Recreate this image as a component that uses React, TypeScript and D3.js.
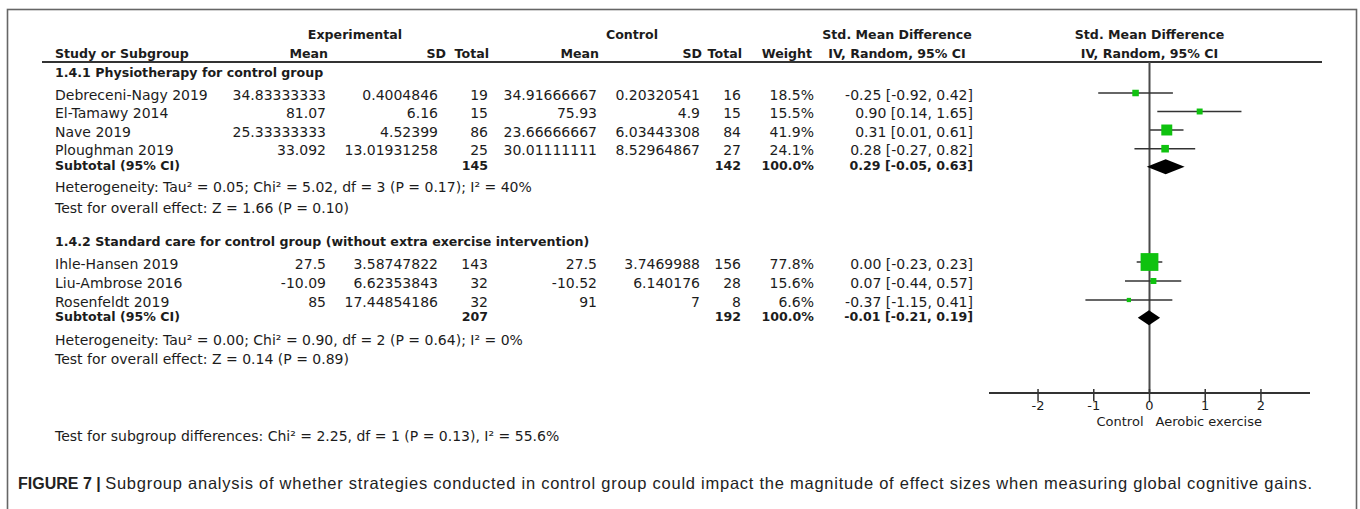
import React from "react";
import * as d3 from "d3";

// ---------- data ----------
const studies = ["Debreceni-Nagy 2019", "El-Tamawy 2014", "Nave 2019", "Ploughman 2019", "Ihle-Hansen 2019", "Liu-Ambrose 2016", "Rosenfeldt 2019"];
const studyGroup = [0, 0, 0, 0, 1, 1, 1];
const expMean = ["34.83333333", "81.07", "25.33333333", "33.092", "27.5", "-10.09", "85"];
const expSD = ["0.4004846", "6.16", "4.52399", "13.01931258", "3.58747822", "6.62353843", "17.44854186"];
const expN = [19, 15, 86, 25, 143, 32, 32];
const ctlMean = ["34.91666667", "75.93", "23.66666667", "30.01111111", "27.5", "-10.52", "91"];
const ctlSD = ["0.20320541", "4.9", "6.03443308", "8.52964867", "3.7469988", "6.140176", "7"];
const ctlN = [16, 15, 84, 27, 156, 28, 8];
const weights = [18.5, 15.5, 41.9, 24.1, 77.8, 15.6, 6.6];
const smd = [-0.25, 0.9, 0.31, 0.28, 0.0, 0.07, -0.37];
const ciLow = [-0.92, 0.14, 0.01, -0.27, -0.23, -0.44, -1.15];
const ciHigh = [0.42, 1.65, 0.61, 0.82, 0.23, 0.57, 0.41];

const groupTitles = ["1.4.1 Physiotherapy for control group", "1.4.2 Standard care for control group (without extra exercise intervention)"];
const groupExpN = [145, 207];
const groupCtlN = [142, 192];
const groupSmd = [0.29, -0.01];
const groupLow = [-0.05, -0.21];
const groupHigh = [0.63, 0.19];
const groupHetero = [
  "Heterogeneity: Tau² = 0.05; Chi² = 5.02, df = 3 (P = 0.17); I² = 40%",
  "Heterogeneity: Tau² = 0.00; Chi² = 0.90, df = 2 (P = 0.64); I² = 0%",
];
const groupOverall = ["Test for overall effect: Z = 1.66 (P = 0.10)", "Test for overall effect: Z = 0.14 (P = 0.89)"];
const subgroupTest = "Test for subgroup differences: Chi² = 2.25, df = 1 (P = 0.13), I² = 55.6%";
const axisTicks = [-2, -1, 0, 1, 2];
const axisLeftLabel = "Control";
const axisRightLabel = "Aerobic exercise";
const captionBold = "FIGURE 7 | ";
const captionText = "Subgroup analysis of whether strategies conducted in control group could impact the magnitude of effect sizes when measuring global cognitive gains.";

// ---------- layout ----------
const W = 1360;
const H = 509;
const FONT = "'DejaVu Sans', Verdana, sans-serif";
const TXT = "#1c1c1c";
const fs = 14;
const fsB = 12.6;

const colX = {
  name: 55,
  expMean: 326,
  expSD: 438,
  expN: 488,
  ctlMean: 597,
  ctlSD: 700,
  ctlN: 741,
  weight: 814,
  ci: 973,
};

// row centres (marker y) for each group
const groupHeaderY = [72, 241];
const groupStudyY = [[93, 111.5, 130, 148.7], [262, 281, 300]];
const groupSubtotalY = [166.7, 317.7];
const groupHeteroY = [192, 345];
const groupOverallY = [213, 364];

const x = d3.scaleLinear().domain([-2.88, 2.88]).range([989, 1310]);
const boxSize = d3.scaleLinear().domain([0, 100]).range([3, 22]);
const axisY = 393;
const topLineY = 62;

const fmt2 = d3.format(".2f");
const ciText = (m: number, l: number, h: number) => `${fmt2(m)} [${fmt2(l)}, ${fmt2(h)}]`.replace(/−/g, "-");

function T(props: any) {
  const { bold, anchor, children, size, ...rest } = props;
  return (
    <text
      fontFamily={FONT}
      fontSize={size ?? (bold ? fsB : fs)}
      fontWeight={bold ? "bold" : "normal"}
      textAnchor={anchor ?? "start"}
      fill={TXT}
      {...rest}
    >
      {children}
    </text>
  );
}

export default function App() {
  const rows: any[] = [];
  const counters = [0, 0];
  studies.forEach((s, i) => {
    const g = studyGroup[i];
    const y = groupStudyY[g][counters[g]++];
    rows.push({ i, y });
  });

  const diamond = (g: number) => {
    const cy = groupSubtotalY[g];
    const hh = 7.5;
    return `M${x(groupLow[g])},${cy}L${x(groupSmd[g])},${cy - hh}L${x(groupHigh[g])},${cy}L${x(groupSmd[g])},${cy + hh}Z`;
  };

  return (
    <svg width={W} height={H} style={{ position: "absolute", left: 0, top: 0, background: "#fff" }}>
      <rect x={7.5} y={9.5} width={1349} height={520} fill="#fff" stroke="#666" strokeWidth={1.6} />

      {/* headers */}
      <T bold x={355} y={39} anchor="middle">Experimental</T>
      <T bold x={632} y={39} anchor="middle">Control</T>
      <T bold x={897} y={39} anchor="middle">Std. Mean Difference</T>
      <T bold x={x(0)} y={39} anchor="middle">Std. Mean Difference</T>
      <T bold x={colX.name} y={58}>Study or Subgroup</T>
      <T bold x={colX.expMean + 2} y={58} anchor="end">Mean</T>
      <T bold x={colX.expSD + 8} y={58} anchor="end">SD</T>
      <T bold x={colX.expN + 1} y={58} anchor="end">Total</T>
      <T bold x={colX.ctlMean + 2} y={58} anchor="end">Mean</T>
      <T bold x={colX.ctlSD + 2} y={58} anchor="end">SD</T>
      <T bold x={colX.ctlN + 1} y={58} anchor="end">Total</T>
      <T bold x={colX.weight - 2} y={58} anchor="end">Weight</T>
      <T bold x={897} y={58} anchor="middle">IV, Random, 95% CI</T>
      <T bold x={x(0)} y={58} anchor="middle">IV, Random, 95% CI</T>
      <line x1={42} x2={1322} y1={topLineY} y2={topLineY} stroke="#333" strokeWidth={2} />

      {/* zero line */}
      <line x1={x(0)} x2={x(0)} y1={topLineY} y2={axisY} stroke="#4a4a4a" strokeWidth={2} />

      {/* group blocks */}
      {[0, 1].map((g) => (
        <g key={"g" + g}>
          <T bold x={colX.name} y={groupHeaderY[g] + 5}>{groupTitles[g]}</T>
          <T bold x={colX.name} y={groupSubtotalY[g] + 3}>Subtotal (95% CI)</T>
          <T bold x={colX.expN} y={groupSubtotalY[g] + 3} anchor="end">{groupExpN[g]}</T>
          <T bold x={colX.ctlN} y={groupSubtotalY[g] + 3} anchor="end">{groupCtlN[g]}</T>
          <T bold x={colX.weight} y={groupSubtotalY[g] + 3} anchor="end">100.0%</T>
          <T bold x={colX.ci} y={groupSubtotalY[g] + 3} anchor="end">{ciText(groupSmd[g], groupLow[g], groupHigh[g])}</T>
          <T x={colX.name} y={groupHeteroY[g]}>{groupHetero[g]}</T>
          <T x={colX.name} y={groupOverallY[g]}>{groupOverall[g]}</T>
          <path d={diamond(g)} fill="#000" />
        </g>
      ))}

      {/* study rows */}
      {rows.map(({ i, y }) => {
        const ty = y + 6.5;
        const s = boxSize(weights[i]);
        return (
          <g key={"s" + i}>
            <T x={colX.name} y={ty}>{studies[i]}</T>
            <T x={colX.expMean} y={ty} anchor="end">{expMean[i]}</T>
            <T x={colX.expSD} y={ty} anchor="end">{expSD[i]}</T>
            <T x={colX.expN} y={ty} anchor="end">{expN[i]}</T>
            <T x={colX.ctlMean} y={ty} anchor="end">{ctlMean[i]}</T>
            <T x={colX.ctlSD} y={ty} anchor="end">{ctlSD[i]}</T>
            <T x={colX.ctlN} y={ty} anchor="end">{ctlN[i]}</T>
            <T x={colX.weight} y={ty} anchor="end">{weights[i].toFixed(1)}%</T>
            <T x={colX.ci} y={ty} anchor="end">{ciText(smd[i], ciLow[i], ciHigh[i])}</T>
            <line x1={x(ciLow[i])} x2={x(ciHigh[i])} y1={y} y2={y} stroke="#333" strokeWidth={1.5} />
            <rect x={x(smd[i]) - s / 2} y={y - s / 2} width={s} height={s} fill="#0fc20f" />
          </g>
        );
      })}

      {/* axis */}
      <line x1={x.range()[0]} x2={x.range()[1]} y1={axisY} y2={axisY} stroke="#333" strokeWidth={2} />
      {axisTicks.map((t) => (
        <g key={"t" + t}>
          <line x1={x(t)} x2={x(t)} y1={axisY - 4} y2={axisY + 8} stroke="#333" strokeWidth={1.5} />
          <T x={x(t)} y={410} anchor="middle" size={13}>{t < 0 ? "-" + Math.abs(t) : String(t)}</T>
        </g>
      ))}
      <T x={x(0) - 6} y={426} anchor="end" size={13}>{axisLeftLabel}</T>
      <T x={x(0) + 6} y={426} size={13}>{axisRightLabel}</T>

      <T x={colX.name} y={441}>{subgroupTest}</T>

      {/* caption */}
      <text x={18} y={489} fontFamily="'Liberation Sans', Arial, sans-serif" fill="#222">
        <tspan fontWeight="bold" fontSize={16}>{captionBold}</tspan>
        <tspan fontSize={16.5} letterSpacing={0.75}>{captionText}</tspan>
      </text>
    </svg>
  );
}
